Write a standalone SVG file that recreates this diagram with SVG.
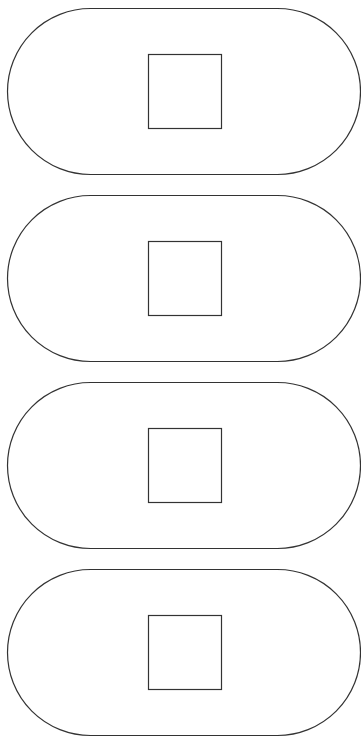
<svg xmlns="http://www.w3.org/2000/svg" width="361" height="737" viewBox="0 0 361 737">
<style>
.stadium{fill:#fff;stroke:#333;stroke-width:1.2}
.box{fill:#fff;stroke:#333;stroke-width:1.2}
</style>
<rect width="361" height="737" fill="#fff"/>
<g id="node1"><rect class="stadium" x="7.5" y="8.5" width="353" height="166" rx="83" ry="83"/><rect class="box" x="148.5" y="54.5" width="73" height="74"/></g>
<g id="node2"><rect class="stadium" x="7.5" y="195.5" width="353" height="166" rx="83" ry="83"/><rect class="box" x="148.5" y="241.5" width="73" height="74"/></g>
<g id="node3"><rect class="stadium" x="7.5" y="382.5" width="353" height="166" rx="83" ry="83"/><rect class="box" x="148.5" y="428.5" width="73" height="74"/></g>
<g id="node4"><rect class="stadium" x="7.5" y="569.5" width="353" height="166" rx="83" ry="83"/><rect class="box" x="148.5" y="615.5" width="73" height="74"/></g>
<g id="connectors"></g>
</svg>
